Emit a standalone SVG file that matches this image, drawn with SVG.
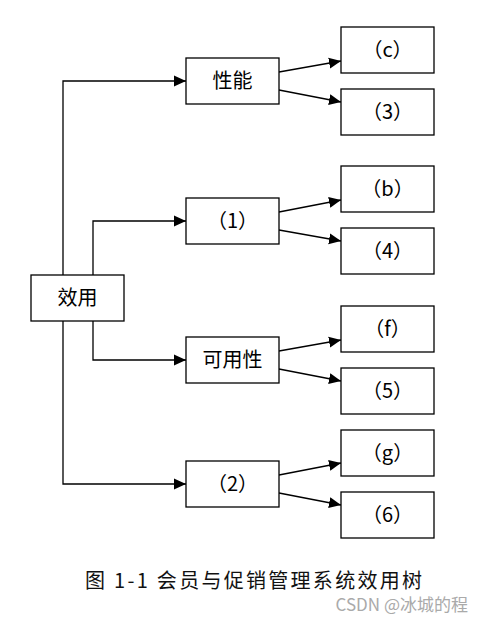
<svg xmlns="http://www.w3.org/2000/svg" width="484" height="622" viewBox="0 0 484 622">
<style>
  .box { fill: #fff; stroke: #000; stroke-width: 1.3; }
  .lbl { font-family: "Noto Sans CJK SC", "Liberation Sans", sans-serif; font-size: 20px; text-anchor: middle; fill: #000; }
  .par { font-family: "Noto Sans CJK SC", "Liberation Sans", sans-serif; font-size: 20px; text-anchor: middle; fill: #000; }
  .con { fill: none; stroke: #000; stroke-width: 1.3; marker-end: url(#arr); }
</style>
<defs>
  <marker id="arr" markerUnits="userSpaceOnUse" markerWidth="12" markerHeight="12" refX="11" refY="5" orient="auto" viewBox="0 0 11 10">
    <path d="M0,0 L11,5 L0,10 z" fill="#000"/>
  </marker>
</defs>
<rect width="484" height="622" fill="#fff"/>
<g id="connectors">
  <path class="con" d="M63,275 V81 H186"/>
  <path class="con" d="M93,275 V221 H186"/>
  <path class="con" d="M93,321 V360 H186"/>
  <path class="con" d="M63,321 V484 H186"/>
  <path class="con" d="M279,72 L341,61"/>
  <path class="con" d="M279,90 L341,102"/>
  <path class="con" d="M279,212 L341,200"/>
  <path class="con" d="M279,230 L341,241"/>
  <path class="con" d="M279,351 L341,340"/>
  <path class="con" d="M279,369 L341,381"/>
  <path class="con" d="M279,475 L341,463"/>
  <path class="con" d="M279,493 L341,505"/>
</g>
<g id="n-xiaoyong"><rect class="box" x="31" y="275" width="93" height="46"/><text class="lbl" x="77.5" y="305">效用</text></g>
<g id="n-xingneng"><rect class="box" x="186" y="58" width="93" height="46"/><text class="lbl" x="232.5" y="88">性能</text></g>
<g id="n-1"><rect class="box" x="186" y="198" width="93" height="46"/><text class="par" x="232.5" y="228">（1）</text></g>
<g id="n-keyongxing"><rect class="box" x="186" y="337" width="93" height="46"/><text class="lbl" x="232.5" y="367">可用性</text></g>
<g id="n-2"><rect class="box" x="186" y="461" width="93" height="46"/><text class="par" x="232.5" y="491">（2）</text></g>
<g id="n-c"><rect class="box" x="341" y="27" width="93" height="46"/><text class="par" x="387.5" y="57">（c）</text></g>
<g id="n-3"><rect class="box" x="341" y="89" width="93" height="46"/><text class="par" x="387.5" y="119">（3）</text></g>
<g id="n-b"><rect class="box" x="341" y="166" width="93" height="46"/><text class="par" x="387.5" y="196">（b）</text></g>
<g id="n-4"><rect class="box" x="341" y="228" width="93" height="46"/><text class="par" x="387.5" y="258">（4）</text></g>
<g id="n-f"><rect class="box" x="341" y="306" width="93" height="46"/><text class="par" x="387.5" y="336">（f）</text></g>
<g id="n-5"><rect class="box" x="341" y="368" width="93" height="46"/><text class="par" x="387.5" y="398">（5）</text></g>
<g id="n-g"><rect class="box" x="341" y="430" width="93" height="46"/><text class="par" x="387.5" y="460">（g）</text></g>
<g id="n-6"><rect class="box" x="341" y="492" width="93" height="46"/><text class="par" x="387.5" y="522">（6）</text></g>
<text x="85" y="588" font-family="Noto Sans CJK SC, Liberation Sans, sans-serif" font-size="20" fill="#111" textLength="337" lengthAdjust="spacing">图 1-1 会员与促销管理系统效用树</text>
<text x="468" y="611" font-family="Noto Sans CJK SC, Liberation Sans, sans-serif" font-size="17" fill="#aaa" text-anchor="end">CSDN @冰城的程</text>
</svg>
